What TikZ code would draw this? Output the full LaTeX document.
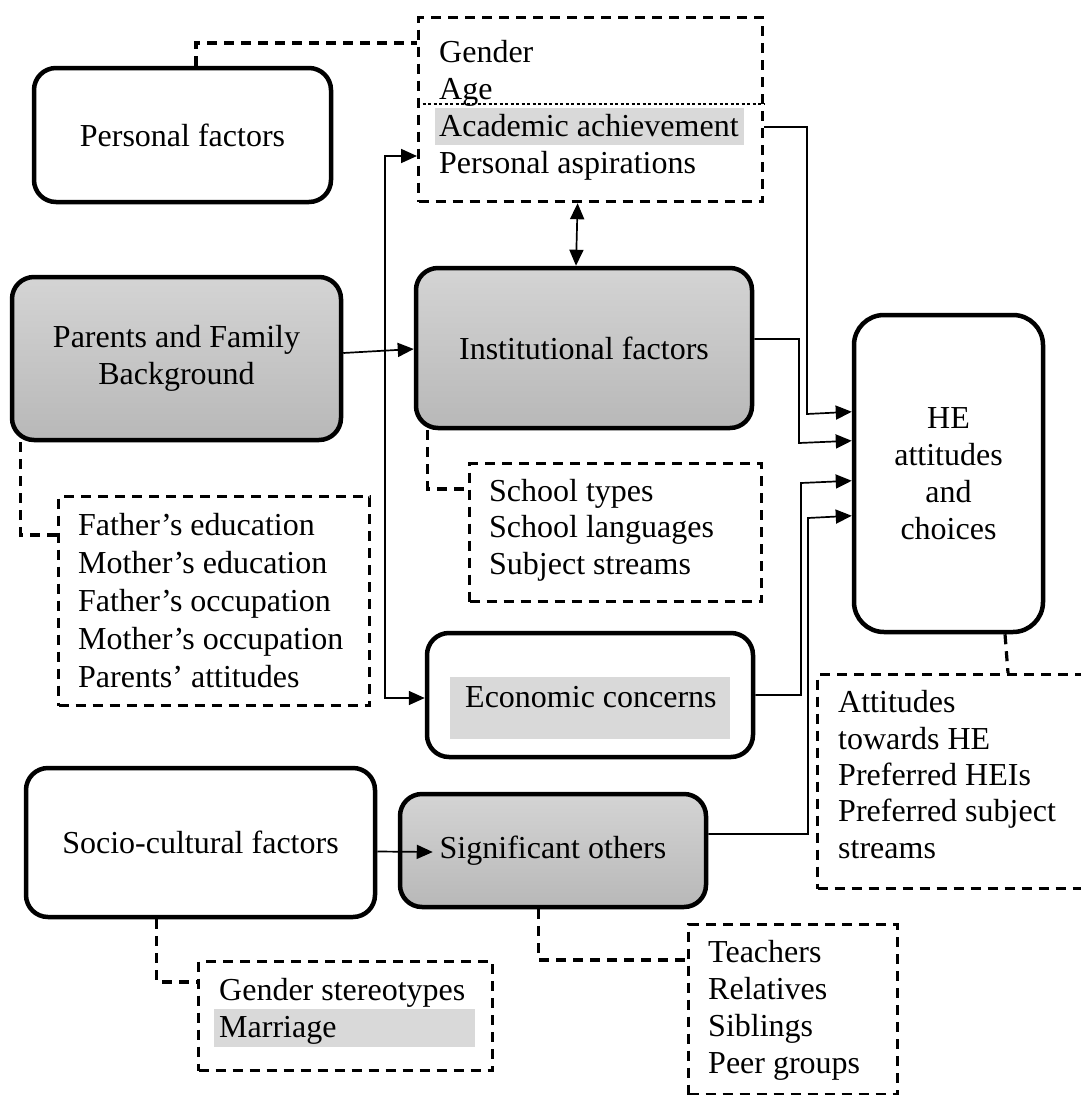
\documentclass[tikz,border=0pt]{standalone}
\usepackage{fontspec}
\setmainfont{Liberation Serif}
\usetikzlibrary{arrows.meta}
\definecolor{gtop}{HTML}{D4D4D4}
\definecolor{gbot}{HTML}{B8B8B8}
\definecolor{hlgray}{HTML}{D9D9D9}
\begin{document}
\begin{tikzpicture}[x=1pt,y=-1pt,
  every node/.style={font=\fontsize{32}{37}\selectfont},
  factor/.style={draw, line width=4.5pt, rounded corners=22pt, fill=white,
    inner sep=0pt, align=center},
  shadedfactor/.style={factor, top color=gtop, bottom color=gbot},
  listbox/.style={draw, dash pattern=on 10pt off 7pt, line width=3.2pt,
    inner sep=0pt, anchor=north west},
  listtxt/.style={inner sep=0pt, anchor=base west, align=left},
  dconn/.style={dash pattern=on 10pt off 7pt, line width=3.2pt},
  conn/.style={line width=1.7pt},
  arr/.style={conn, -{Triangle[length=16pt,width=14pt]}},
  darr/.style={conn, {Triangle[length=16pt,width=14pt]}-{Triangle[length=16pt,width=14pt]}},
  hl/.style={fill=hlgray}]
\useasboundingbox (0,0) rectangle (1081,1095);

% main factor boxes
\node[factor, minimum width=297pt, minimum height=134pt] (pers) at (182.5,135) {Personal factors};
\node[shadedfactor, minimum width=329pt, minimum height=163pt] (par) at (176.5,358.5) {Parents and Family\\Background};
\node[shadedfactor, minimum width=336pt, minimum height=160pt] (inst) at (584,348) {Institutional factors};
\node[factor, minimum width=326pt, minimum height=124pt] (econ) at (590,695) {};
\node[factor, rounded corners=30pt, minimum width=189pt, minimum height=317pt] (he) at (948.5,473.5) {HE\\attitudes\\and\\choices};
\node[factor, minimum width=349pt, minimum height=149pt] (soc) at (200.5,842.5) {Socio-cultural factors};
\node[shadedfactor, minimum width=306pt, minimum height=113pt] (sig) at (553,850.5) {Significant others};

% economic concerns label with its highlight
\fill[hl] (450,677) rectangle (730,739);
\node[listtxt] (econtxt) at (465,707) {Economic concerns};

% dashed boxes listing the indicators
\node[listbox, minimum width=344pt, minimum height=184pt] (pdash) at (417,16) {};
\node[listbox, minimum width=311pt, minimum height=209pt] (parlist) at (57,495) {};
\node[listbox, minimum width=292pt, minimum height=138pt] (instlist) at (468,462) {};
\node[listbox, minimum width=290pt, minimum height=214pt] (helist) at (816,673) {};
\node[listbox, minimum width=294pt, minimum height=109pt] (soclist) at (197,960) {};
\node[listbox, minimum width=209pt, minimum height=170pt] (siglist) at (687,923) {};

% thin dotted rule inside the personal list
\coordinate (rl) at (417,104);
\coordinate (rr) at (765,104);
\draw[line width=1.2pt, dash pattern=on 3pt off 2.5pt] (rl) -- (rr);

% highlighted entries
\fill[hl] (435,108) rectangle (744,145);
\fill[hl] (214,1009) rectangle (475,1047);

% list texts (anchored at the baseline of their last line)
\node[listtxt] (perstxt) at (439,173) {Gender\\Age\\Academic achievement\\Personal aspirations};
\node[listtxt, font=\fontsize{32}{38}\selectfont] (partxt) at (78,687) {Father’s education\\Mother’s education\\Father’s occupation\\Mother’s occupation\\Parents’ attitudes};
\node[listtxt, font=\fontsize{32}{36.5}\selectfont] (insttxt) at (489,574) {School types\\School languages\\Subject streams};
\node[listtxt, font=\fontsize{32}{36.3}\selectfont] (hetxt) at (838,858) {Attitudes\\towards HE\\Preferred HEIs\\Preferred subject\\streams};
\node[listtxt] (soctxt) at (219,1037) {Gender stereotypes\\Marriage};
\node[listtxt, font=\fontsize{32}{36.7}\selectfont] (sigtxt) at (708,1073) {Teachers\\Relatives\\Siblings\\Peer groups};

% dashed links from factors to their lists
\draw[dconn] ([xshift=13.5pt]pers.north) |- ([yshift=-27pt]pdash.north west);
\draw[dconn] ([xshift=11pt]par.south west) |- ([yshift=-40pt]parlist.north west);
\draw[dconn] ([xshift=14pt]inst.south west) |- ([yshift=-27pt]instlist.north west);
\draw[dconn] ([xshift=133pt]soc.south west) |- ([yshift=-22pt]soclist.north west);
\draw[dconn] ([xshift=141pt]sig.south west) |- ([yshift=-37pt]siglist.north west);
\draw[dconn] ([xshift=56.5pt]he.south) -- ([xshift=192pt]helist.north west);

% influence arrows
\draw[arr] ([yshift=5.5pt]par.east) -- ([yshift=-1pt]inst.west);
\coordinate (jm) at (385,353);
\coordinate (jt) at (385,156);
\coordinate (jb) at (385,698);
\draw[arr] (jm) -- (jt) -- (jt -| pdash.west);
\draw[arr] (jm) -- (jb) -- (jb -| econ.west);
\draw[darr] ([xshift=-13pt]pdash.south) -- ([xshift=-8pt]inst.north);
\draw[arr] ([yshift=-9pt]soc.east) -- ([xshift=35pt,yshift=-1.5pt]sig.west);

% arrows into HE attitudes and choices
\draw[arr] ([yshift=-111pt]pdash.north east) -| (807,414) -- ([yshift=-99pt]he.north west);
\draw[arr] ([yshift=9pt]inst.east) -| (799,443) -- ([yshift=-128pt]he.north west);
\draw[arr] (econ.east) -| (801,483) -- ([yshift=-168pt]he.north west);
\draw[arr] ([yshift=16.5pt]sig.east) -| (808,518) -- ([yshift=-203pt]he.north west);
\end{tikzpicture}
\end{document}
